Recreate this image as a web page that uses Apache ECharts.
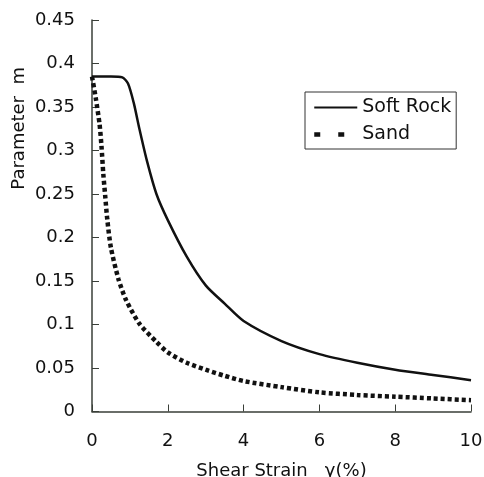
<!DOCTYPE html>
<html>
<head>
<meta charset="utf-8">
<script src="https://cdn.jsdelivr.net/npm/echarts@6/dist/echarts.min.js"></script>
<style>
  html, body {margin: 0; padding: 0; background: #fff;}
  #chart {width: 484px; height: 477px;}
</style>
</head>
<body>
<div id="chart"></div>
<script>
    // 读图得到的数据 (shear strain %, parameter m)
    const softRockStrain = [0, 0.5, 0.8, 0.95, 1.1, 1.25, 1.45, 1.7, 2.0, 2.5, 3.0, 3.5, 4.0, 5.0, 6.0, 7.0, 8.0, 9.0, 10.0]
    const softRockM = [0.385, 0.385, 0.384, 0.377, 0.355, 0.325, 0.288, 0.250, 0.220, 0.178, 0.145, 0.124, 0.104, 0.081, 0.066, 0.056, 0.048, 0.042, 0.036]

    const sandStrain = [0, 0.1, 0.2, 0.25, 0.3, 0.35, 0.4, 0.5, 0.7, 0.9, 1.25, 1.7, 2.0, 2.5, 3.0, 3.5, 4.0, 5.0, 6.0, 7.0, 8.0, 9.0, 10.0]
    const sandM = [0.385, 0.36, 0.33, 0.305, 0.272, 0.247, 0.222, 0.188, 0.152, 0.128, 0.101, 0.080, 0.068, 0.056, 0.048, 0.041, 0.035, 0.028, 0.022, 0.019, 0.017, 0.015, 0.013]

    const xTicks = [0, 2, 4, 6, 8, 10]
    const yTicks = [0, 0.05, 0.1, 0.15, 0.2, 0.25, 0.3, 0.35, 0.4, 0.45]

    const pair = (xs, ys) => xs.map((x, i) => [x, ys[i]])

    const myChart = echarts.init(document.getElementById('chart'));

    const fontFamily = 'DejaVu Sans, sans-serif'
    const axisColor = '#3a3f38'

    const option = {
        animation: false,
        textStyle: {fontFamily: fontFamily},
        grid: {left: 92, right: 13, top: 20, bottom: 65.5, outerBoundsMode: 'none'},
        legend: {
            orient: 'vertical',
            left: 305,
            top: 92,
            padding: [6, 5, 5, 7],
            itemGap: 8,
            itemWidth: 43,
            itemHeight: 14,
            borderColor: '#333',
            borderWidth: 1,
            itemStyle: {opacity: 0},
            textStyle: {fontSize: 19, color: '#111', fontFamily: fontFamily},
            data: [
                {name: 'Soft Rock'},
                {name: 'Sand', lineStyle: {type: [6, 18], width: 4.5}}
            ]
        },
        xAxis: {
            type: 'value',
            min: xTicks[0],
            max: xTicks[xTicks.length - 1],
            interval: 2,
            name: 'Shear Strain   γ(%)',
            nameLocation: 'middle',
            nameGap: 51,
            nameTextStyle: {fontSize: 18, color: '#111'},
            axisLine: {lineStyle: {color: axisColor, width: 1.5}},
            axisTick: {inside: true, length: 7, lineStyle: {color: axisColor}},
            axisLabel: {fontSize: 18, color: '#111', margin: 21},
            splitLine: {show: false}
        },
        yAxis: {
            type: 'value',
            min: yTicks[0],
            max: yTicks[yTicks.length - 1],
            interval: 0.05,
            axisLine: {show: true, lineStyle: {color: axisColor, width: 1.5}},
            axisTick: {show: true, inside: true, length: 7, lineStyle: {color: axisColor}},
            axisLabel: {fontSize: 18, color: '#111', margin: 17, formatter: v => String(+v.toFixed(2))},
            splitLine: {show: false}
        },
        graphic: [{
            type: 'text',
            left: 10,
            top: 67,
            rotation: Math.PI / 2,
            style: {text: 'Parameter  m', fontSize: 18, fill: '#111', fontFamily: fontFamily}
        }],
        series: [
            {
                name: 'Soft Rock',
                type: 'line',
                symbol: 'none',
                smooth: 0.25,
                data: pair(softRockStrain, softRockM),
                itemStyle: {color: '#111'},
                lineStyle: {color: '#111', width: 2.5}
            },
            {
                name: 'Sand',
                type: 'line',
                symbol: 'none',
                smooth: 0.25,
                data: pair(sandStrain, sandM),
                itemStyle: {color: '#111'},
                lineStyle: {color: '#111', width: 4.5, type: [4, 3]}
            }
        ]
    };
    myChart.setOption(option);
</script>
</body>
</html>
